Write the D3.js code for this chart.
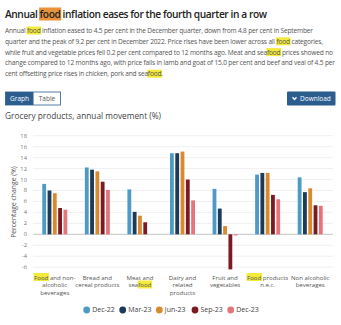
<!DOCTYPE html>
<html><head><meta charset="utf-8">
<script src="https://cdn.jsdelivr.net/npm/d3@7"></script>
<style>
html,body{margin:0;padding:0;background:#fff;}
svg{display:block;font-family:"Open Sans",sans-serif;}
</style></head>
<body>
<svg id="c" width="341" height="325"></svg>
<script>
const categories = [
  ["[Food] and non-","alcoholic","beverages"],
  ["Bread and","cereal products"],
  ["Meat and","sea[food]"],
  ["Dairy and","related","products"],
  ["Fruit and","vegetables"],
  ["[Food] products","n.e.c."],
  ["Non alcoholic","beverages"]
];
const seriesNames = ["Dec-22","Mar-23","Jun-23","Sep-23","Dec-23"];
const dec22 = [9.2, 12.2, 8.2, 14.8, 8.3, 10.9, 10.4];
const mar23 = [8.0, 11.8, 4.1, 14.8, 4.7, 11.2, 7.7];
const jun23 = [7.5, 11.5, 3.4, 15.1, 1.5, 11.2, 8.4];
const sep23 = [4.8, 9.6, 2.2, 10.0, -6.4, 7.2, 5.3];
const dec23 = [4.5, 8.1, 0.0, 6.2, -0.2, 6.4, 5.2];
const seriesValues = [dec22, mar23, jun23, sep23, dec23];
const colors = ["#4d9ac6","#1c3b58","#d98a2f","#7b1a22","#e6747b"];
const yTicks = [18,16,14,12,10,8,6,4,2,0,-2,-4,-6];
const title = "Annual [food] inflation eases for the fourth quarter in a row";
const paragraph = [
  "Annual [food] inflation eased to 4.5 per cent in the December quarter, down from 4.8 per cent in September",
  "quarter and the peak of 9.2 per cent in December 2022. Price rises have been lower across all [food] categories,",
  "while fruit and vegetable prices fell 0.2 per cent compared to 12 months ago. Meat and sea[food] prices showed no",
  "change compared to 12 months ago, with price falls in lamb and goat of 15.0 per cent and beef and veal of 4.5 per",
  "cent offsetting price rises in chicken, pork and sea[food]."
];
const paraWidths = [308, 318, 328, 330, 158];

const svg = d3.select("#c");

function parseSegs(s){
  const out=[]; const re=/\[([^\]]*)\]/g; let last=0, m;
  while((m=re.exec(s))){ if(m.index>last) out.push({t:s.slice(last,m.index),h:false}); out.push({t:m[1],h:true}); last=re.lastIndex; }
  if(last<s.length) out.push({t:s.slice(last),h:false});
  return out;
}
function hlText(g, str, x, y, opts){
  const grp = g.append("g");
  const t = grp.append("text").attr("x",x).attr("y",y)
    .attr("font-size",opts.size).attr("fill",opts.fill)
    .attr("font-weight",opts.weight||400)
    .attr("text-anchor",opts.anchor||"start")
    .style("white-space","pre");
  if(opts.len) t.attr("textLength",opts.len).attr("lengthAdjust","spacing");
  const segs = parseSegs(str);
  segs.forEach(s=>{ t.append("tspan").text(s.t).attr("data-h", s.h?1:0); });
  t.selectAll("tspan").each(function(){
    if(this.getAttribute("data-h")==="1"){
      const b=this.getBBox();
      grp.insert("rect","text").attr("x",b.x-0.5).attr("y",b.y+0.5)
        .attr("width",b.width+1).attr("height",b.height-1).attr("fill",opts.hl);
    }
  });
  return grp;
}

// Title
hlText(svg, title, 5, 18, {size:10.2, fill:"#222", weight:600, hl:"#e8923c", len:262});
// Paragraph
paragraph.forEach((l,i)=>{
  hlText(svg, l, 5, 33+i*10.8, {size:6.6, fill:"#555", hl:"#f3ea3c", len:paraWidths[i]});
});

// Buttons
svg.append("rect").attr("x",5.5).attr("y",92).attr("width",55).attr("height",13).attr("fill","#fff").attr("stroke","#2c5d8f").attr("stroke-width",0.8);
svg.append("rect").attr("x",5.5).attr("y",92).attr("width",28).attr("height",13).attr("fill","#2c5d8f");
svg.append("text").attr("x",19.5).attr("y",101).attr("text-anchor","middle").attr("font-size",6.5).attr("fill","#fff").text("Graph");
svg.append("text").attr("x",47).attr("y",101).attr("text-anchor","middle").attr("font-size",6.5).attr("fill","#555").text("Table");
svg.append("rect").attr("x",287).attr("y",91.5).attr("width",48.5).attr("height",14).attr("rx",1).attr("fill","#2c5d8f");
svg.append("path").attr("d","M292.5,97.3 L294.5,99.5 L296.5,97.3").attr("fill","none").attr("stroke","#fff").attr("stroke-width",1.3);
svg.append("text").attr("x",300).attr("y",101).attr("font-size",6.5).attr("fill","#fff").text("Download");

// Subtitle
svg.append("text").attr("x",5).attr("y",119).attr("font-size",8.3).attr("fill","#444").text("Grocery products, annual movement (%)");

// Chart
const plotL = 33, plotR = 333;
const y = d3.scaleLinear().domain([-6,18]).range([267.2,135.7]);
const x0 = d3.scaleBand().domain(d3.range(categories.length)).range([33.5,331.5]).padding(0);
const groupW = 25;
const x1 = d3.scaleBand().domain(d3.range(seriesNames.length))
  .range([(x0.bandwidth()-groupW)/2,(x0.bandwidth()+groupW)/2]).paddingInner(0.28);

const grid = svg.append("g");
grid.selectAll("line").data(yTicks.filter(d=>d!==0)).join("line")
  .attr("x1",plotL).attr("x2",plotR).attr("y1",d=>y(d)).attr("y2",d=>y(d))
  .attr("stroke","#ececec").attr("stroke-width",0.8);
svg.append("g").selectAll("text").data(yTicks).join("text")
  .attr("x",27).attr("y",d=>y(d)+2).attr("text-anchor","end")
  .attr("font-size",5.8).attr("fill","#777").text(d=>d);

svg.append("text").attr("transform","translate(16,202) rotate(-90)")
  .attr("text-anchor","middle").attr("font-size",6.8).attr("fill","#555").text("Percentage change (%)");

svg.append("line").attr("x1",plotL).attr("x2",plotR).attr("y1",y(0)).attr("y2",y(0))
  .attr("stroke","#bbb").attr("stroke-width",0.9);

const groups = svg.append("g").selectAll("g").data(categories).join("g")
  .attr("transform",(d,i)=>`translate(${x0(i)},0)`);
groups.selectAll("rect").data((d,i)=>seriesValues.map((s,k)=>({k,v:s[i]}))).join("rect")
  .attr("x",d=>x1(d.k)).attr("width",x1.bandwidth())
  .attr("y",d=>y(Math.max(0,d.v))).attr("height",d=>Math.max(Math.abs(y(d.v)-y(0)), d.v===0?0:0.6))
  .attr("fill",d=>colors[d.k]);

// Category labels
categories.forEach((lines,i)=>{
  const cx = x0(i)+x0.bandwidth()/2;
  lines.forEach((l,j)=>{
    hlText(svg, l, cx, 279.5+j*7.5, {size:6.1, fill:"#555", hl:"#f3ea3c", anchor:"middle"});
  });
});

// Legend
const legX = [86.7,122.7,159.3,195,230.7];
const leg = svg.append("g").selectAll("g").data(seriesNames).join("g")
  .attr("transform",(d,i)=>`translate(${legX[i]},310)`);
leg.append("circle").attr("r",3.4).attr("fill",(d,i)=>colors[i]);
leg.append("text").attr("x",5.5).attr("y",2.4).attr("font-size",7).attr("fill","#444").text(d=>d);
</script>
</body></html>
